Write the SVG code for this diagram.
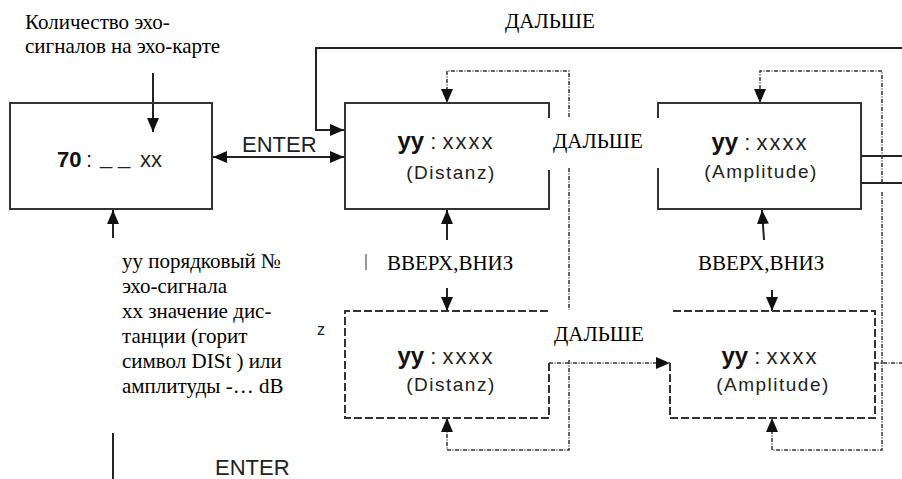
<svg xmlns="http://www.w3.org/2000/svg" width="902" height="479" viewBox="0 0 902 479">
<defs>
<style>
.box{fill:none;stroke:#333;stroke-width:2}
.dash{fill:none;stroke:#333;stroke-width:2;stroke-dasharray:8 3}
.ln{fill:none;stroke:#222;stroke-width:2}
.thin{fill:none;stroke:#333;stroke-width:1}
.dot{fill:none;stroke:#333;stroke-width:1.5;stroke-dasharray:4 1.5 1 1.5}
.ser{font-family:'Liberation Serif','Times New Roman',serif;font-size:21px;fill:#000}
.san{font-family:'Liberation Sans',Arial,sans-serif;fill:#222}
.big{font-size:22px}
.sub{font-size:19px;letter-spacing:1.5px}
.yy{font-weight:bold;font-size:24px;fill:#111}
.xs{letter-spacing:2px}
</style>
<marker id="ah" viewBox="0 0 14 12" refX="14" refY="6" markerWidth="14" markerHeight="12" markerUnits="userSpaceOnUse" orient="auto-start-reverse">
<path d="M0,0 L14,6 L0,12 z" fill="#111"/>
</marker>
</defs>
<rect width="902" height="479" fill="#fff"/>

<g id="connectors">
<path class="ln" d="M153,73 V132" marker-end="url(#ah)"/>
<path class="ln" d="M213,157 H344" marker-start="url(#ah)" marker-end="url(#ah)"/>
<path class="ln" d="M902,48 H316 V130 H344" marker-end="url(#ah)"/>
<path class="ln" d="M113,238 V210" marker-end="url(#ah)"/>
<path class="ln" d="M113,433 V479"/>
<path class="ln" d="M447,240 V210" marker-end="url(#ah)"/>
<path class="ln" d="M447,288 V311" marker-end="url(#ah)"/>
<path class="ln" d="M764,240 L762,210" marker-end="url(#ah)"/>
<path class="ln" d="M772,290 V311" marker-end="url(#ah)"/>
<path class="ln" d="M861,156 H902 M861,183 H902"/>
<path class="thin" d="M366,254 V270"/>
<path class="dot" d="M569,117 V71 H447 V103" marker-end="url(#ah)"/>
<path class="dot" d="M569,168 V310"/>
<path class="dot" d="M569,360 V450 H447 V418" marker-end="url(#ah)"/>
<path class="dot" d="M549,363 H670" marker-end="url(#ah)"/>
<path class="dot" d="M882,183 V71 H760 V103" marker-end="url(#ah)"/>
<path class="dot" d="M882,192 V450 H772 V418" marker-end="url(#ah)"/>
<path class="dot" d="M875,363 H902"/>
</g>

<g id="labels">
<text class="ser" x="25" y="29">Количество эхо-</text>
<text class="ser" x="25" y="53">сигналов на эхо-карте</text>
<text class="ser" x="505" y="28">ДАЛЬШЕ</text>
<text class="san big" x="242" y="152">ENTER</text>
<text class="ser" x="553" y="148">ДАЛЬШЕ</text>
<text class="ser" x="387" y="270">ВВЕРХ,ВНИЗ</text>
<text class="ser" x="698" y="270">ВВЕРХ,ВНИЗ</text>
<text class="ser" x="554" y="341">ДАЛЬШЕ</text>
<text class="san" x="317" y="335" font-size="16">z</text>
<text class="san big" x="215" y="475">ENTER</text>
<text class="ser">
<tspan x="122" y="268">уу порядковый №</tspan>
<tspan x="122" y="293">эхо-сигнала</tspan>
<tspan x="122" y="318">хх значение дис-</tspan>
<tspan x="122" y="343">танции (горит</tspan>
<tspan x="122" y="368">символ DISt ) или</tspan>
<tspan x="122" y="393">амплитуды -… dB</tspan>
</text>
</g>

<g id="node-count">
<rect class="box" x="10" y="103" width="202" height="106"/>
<text class="san big" y="167"><tspan x="57" font-weight="bold" fill="#111">70</tspan><tspan x="86">:</tspan><tspan x="100" y="164">_</tspan><tspan x="118" y="164">_</tspan><tspan x="140" y="167">xx</tspan></text>
</g>

<g id="node-distanz">
<path class="box" d="M549,118 V103 H345 V209 H549 V170"/>
<text class="san big" x="446" y="149" text-anchor="middle"><tspan class="yy">yy</tspan> : <tspan class="xs">xxxx</tspan></text>
<text class="san sub" x="451" y="179" text-anchor="middle">(Distanz)</text>
</g>

<g id="node-amplitude">
<path class="box" d="M658,118 V103 H861 V209 H658 V168"/>
<text class="san big" x="760" y="150" text-anchor="middle"><tspan class="yy">yy</tspan> : <tspan class="xs">xxxx</tspan></text>
<text class="san sub" x="761" y="178" text-anchor="middle">(Amplitude)</text>
</g>

<g id="node-distanz-2">
<path class="dash" d="M549,363 V418 H345 V311 H549"/>
<text class="san big" x="446" y="364" text-anchor="middle"><tspan class="yy">yy</tspan> : <tspan class="xs">xxxx</tspan></text>
<text class="san sub" x="451" y="391" text-anchor="middle">(Distanz)</text>
</g>

<g id="node-amplitude-2">
<path class="dash" d="M670,363 V418 H875 V311 H670"/>
<text class="san big" x="770" y="364" text-anchor="middle"><tspan class="yy">yy</tspan> : <tspan class="xs">xxxx</tspan></text>
<text class="san sub" x="773" y="391" text-anchor="middle">(Amplitude)</text>
</g>
</svg>
